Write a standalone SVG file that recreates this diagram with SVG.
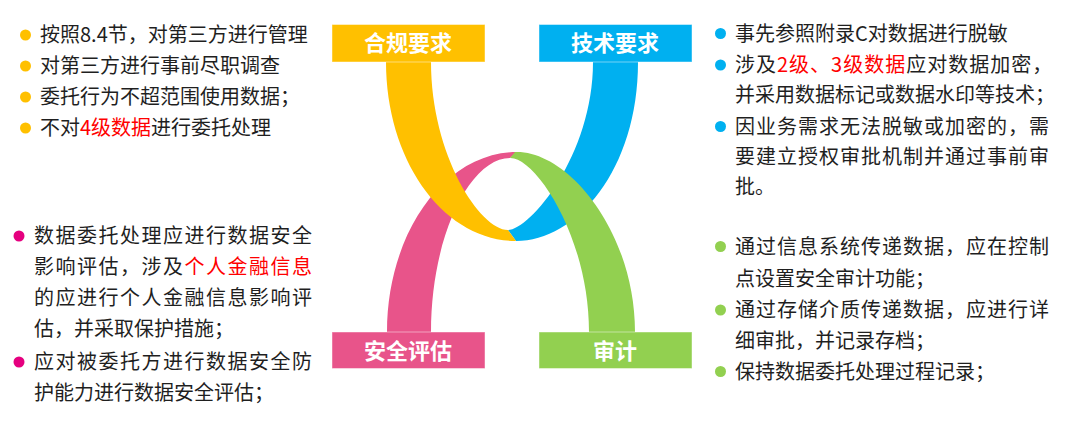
<svg xmlns="http://www.w3.org/2000/svg" width="1080" height="422" viewBox="0 0 1080 422">
<style>
.t{font-family:"Noto Sans CJK SC","Noto Sans",sans-serif;font-size:20px;fill:#1f1f1f}
.j1{letter-spacing:1px}
.j15{letter-spacing:1.5px}
.red{fill:#FF0000}
.lbl{font-family:"Noto Sans CJK SC","Noto Sans",sans-serif;font-size:22px;font-weight:bold;fill:#ffffff;text-anchor:middle}
.box{stroke:#ffffff;stroke-opacity:0.45;stroke-width:1}
</style>
<rect width="1080" height="422" fill="#ffffff"/>
<g id="connectors">
<path d="M387,340 L387,332 L431,332 C431,236 470,158 510,158 L517,152 C445,152 387,232.6 387,332 Z" fill="#E8548A"/>
<path d="M638,55 L593,55 L593,62 C593,155 530,230 508,230 L516,241 C576,241 638,170 638,62 Z" fill="#00B0F0"/>
<path d="M386,55 L431,55 L431,62 C431,155 480,230 508,230 L516,241 C444,241 386,161 386,62 Z" fill="#FFC000"/>
<path d="M589,340 L635,340 L635,332 C635,232 568,150 515,152 L510,158 C535,157 589,236 589,332 Z" fill="#92D050"/>
</g>
<g id="node-compliance">
<rect class="box" x="332" y="24.5" width="153" height="37.5" fill="#FFC000"/>
<text class="lbl" x="408" y="51">合规要求</text>
</g>
<g id="node-tech">
<rect class="box" x="539" y="24.5" width="153" height="37.5" fill="#00B0F0"/>
<text class="lbl" x="615" y="51">技术要求</text>
</g>
<g id="node-assessment">
<rect class="box" x="332" y="332" width="153" height="36.5" fill="#E8548A"/>
<text class="lbl" x="408" y="358.5">安全评估</text>
</g>
<g id="node-audit">
<rect class="box" x="539" y="332" width="153" height="36.5" fill="#92D050"/>
<text class="lbl" x="615" y="358.5">审计</text>
</g>
<g id="text-compliance">
<g fill="#FFC000">
<circle cx="25.5" cy="35" r="5.5"/>
<circle cx="25.5" cy="66" r="5.5"/>
<circle cx="25.5" cy="97" r="5.5"/>
<circle cx="25.5" cy="128" r="5.5"/>
</g>
<text class="t" x="40" y="42">按照8.4节，对第三方进行管理</text>
<text class="t" x="40" y="73">对第三方进行事前尽职调查</text>
<text class="t" x="40" y="104">委托行为不超范围使用数据；</text>
<text class="t" x="40" y="135">不对<tspan class="red">4级数据</tspan>进行委托处理</text>
</g>
<g id="text-tech">
<g fill="#00B0F0">
<circle cx="720.5" cy="33.5" r="5.5"/>
<circle cx="720.5" cy="65" r="5.5"/>
<circle cx="720.5" cy="126.5" r="5.5"/>
</g>
<text class="t" x="735" y="40.5">事先参照附录C对数据进行脱敏</text>
<text class="t j1" x="735" y="72">涉及<tspan class="red">2级、3级数据</tspan>应对数据加密，</text>
<text class="t" x="735" y="102">并采用数据标记或数据水印等技术；</text>
<text class="t j1" x="735" y="134">因业务需求无法脱敏或加密的，需</text>
<text class="t j1" x="735" y="164">要建立授权审批机制并通过事前审</text>
<text class="t" x="735" y="194">批。</text>
</g>
<g id="text-assessment">
<g fill="#E5007F">
<circle cx="19" cy="236" r="5.5"/>
<circle cx="19" cy="362" r="5.5"/>
</g>
<text class="t j15" x="34" y="243">数据委托处理应进行数据安全</text>
<text class="t j15" x="34" y="274">影响评估，涉及<tspan class="red">个人金融信息</tspan></text>
<text class="t j15" x="34" y="304.5">的应进行个人金融信息影响评</text>
<text class="t" x="34" y="335.5">估，并采取保护措施；</text>
<text class="t j15" x="34" y="369">应对被委托方进行数据安全防</text>
<text class="t" x="34" y="400">护能力进行数据安全评估；</text>
</g>
<g id="text-audit">
<g fill="#92D050">
<circle cx="720.5" cy="246.5" r="5.5"/>
<circle cx="720.5" cy="310" r="5.5"/>
<circle cx="720.5" cy="371.5" r="5.5"/>
</g>
<text class="t j1" x="735" y="254">通过信息系统传递数据，应在控制</text>
<text class="t" x="735" y="285.5">点设置安全审计功能；</text>
<text class="t j1" x="735" y="317">通过存储介质传递数据，应进行详</text>
<text class="t" x="735" y="347.5">细审批，并记录存档；</text>
<text class="t" x="735" y="379">保持数据委托处理过程记录；</text>
</g>
</svg>
